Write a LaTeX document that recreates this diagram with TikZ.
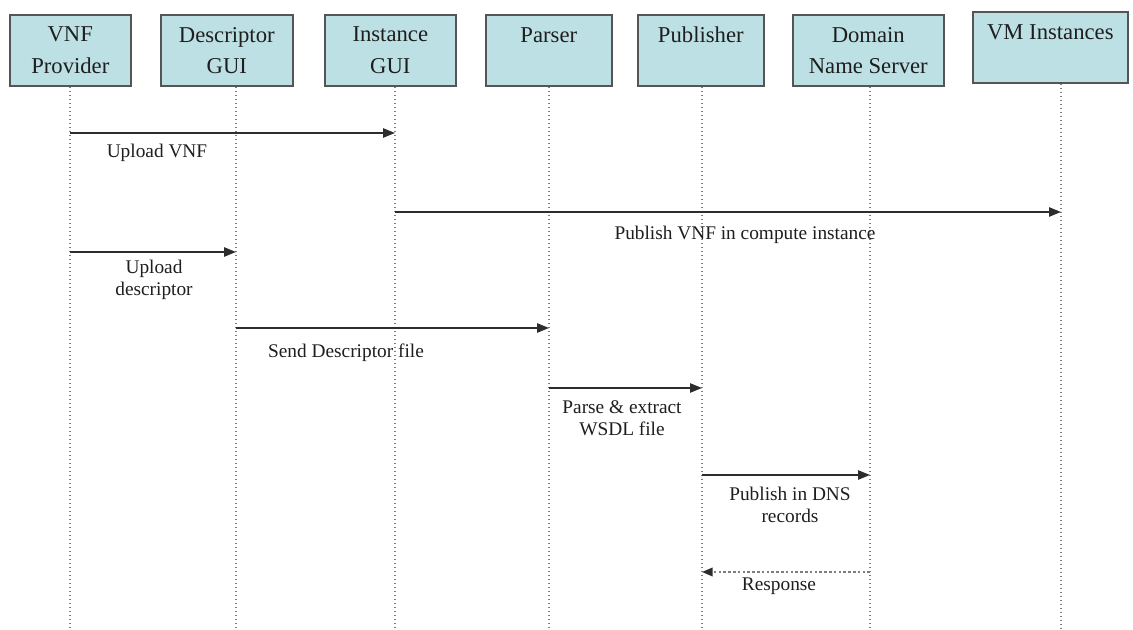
\documentclass[tikz,border=0pt]{standalone}
\usepackage{fontspec}
\setmainfont{Liberation Serif}
\usetikzlibrary{arrows.meta}
\definecolor{boxfill}{RGB}{189,224,228}
\definecolor{boxline}{RGB}{85,85,85}
\definecolor{msgline}{RGB}{45,45,45}
\definecolor{lifeline}{RGB}{125,125,125}
\definecolor{txt}{RGB}{30,30,30}
\begin{document}
\begin{tikzpicture}[x=0.75pt,y=-0.75pt,
  actor/.style={draw=boxline,fill=boxfill,line width=1.2pt,
    minimum height=53.25pt,inner sep=0pt,anchor=north west,
    align=center,text=txt,
    font=\fontsize{17}{23.5}\selectfont},
  life/.style={lifeline,line width=0.8pt,dash pattern=on 1pt off 2pt},
  msg/.style={msgline,line width=1.2pt,
    -{Triangle[length=9pt,width=7pt]}},
  reply/.style={line width=1.1pt,draw=lifeline,dash pattern=on 2pt off 1.6pt,
    -{Triangle[length=8pt,width=6.5pt,color=msgline,fill=msgline]}},
  lbl/.style={align=center,text=txt,inner sep=0pt,
    font=\fontsize{14.5}{16.3}\selectfont}]
\useasboundingbox (0,0) rectangle (1133,630);

% participants
\node[actor,minimum width=90.75pt] (vnf) at (9,14) {VNF\\Provider};
\node[actor,minimum width=99pt] (dgui) at (160,14) {Descriptor\\GUI};
\node[actor,minimum width=98.25pt] (igui) at (324,14) {Instance\\GUI};
\node[actor,minimum width=94.5pt] (parser) at (485,14) {Parser\\\mbox{}};
\node[actor,minimum width=94.5pt] (pub) at (637,14) {Publisher\\\mbox{}};
\node[actor,minimum width=113.25pt] (dns) at (792,14) {Domain\\Name Server};
\node[actor,minimum width=116.25pt] (vm) at (972,11) {VM Instances\\\mbox{}};

% lifelines
\foreach \n/\x in {vnf/70,dgui/236,igui/395,parser/549,pub/702,dns/870,vm/1061}{
  \coordinate (\n-top) at (\x,0 |- \n.south);
  \coordinate (\n-end) at (\x,630);
  \draw[life] (\n-top) -- (\n-end);
}

% messages
\draw[msg] (vnf-top |- 0,133) -- (igui-top |- 0,133);
\node[lbl] (l1) at (157,153) {Upload VNF};

\draw[msg] (igui-top |- 0,212) -- (vm-top |- 0,212);
\node[lbl] (l2) at (745,235) {Publish VNF in compute instance};

\draw[msg] (vnf-top |- 0,252) -- (dgui-top |- 0,252);
\node[lbl] (l3) at (154,280) {Upload\\descriptor};

\draw[msg] (dgui-top |- 0,328) -- (parser-top |- 0,328);
\node[lbl] (l4) at (346,353) {Send Descriptor file};

\draw[msg] (parser-top |- 0,388) -- (pub-top |- 0,388);
\node[lbl] (l5) at (622,418) {Parse \& extract\\WSDL file};

\draw[msg] (pub-top |- 0,475) -- (dns-top |- 0,475);
\node[lbl] (l6) at (790,505) {Publish in DNS\\records};

\draw[reply] (dns-top |- 0,572) -- (pub-top |- 0,572);
\node[lbl] (l7) at (779,586) {Response};
\end{tikzpicture}
\end{document}
